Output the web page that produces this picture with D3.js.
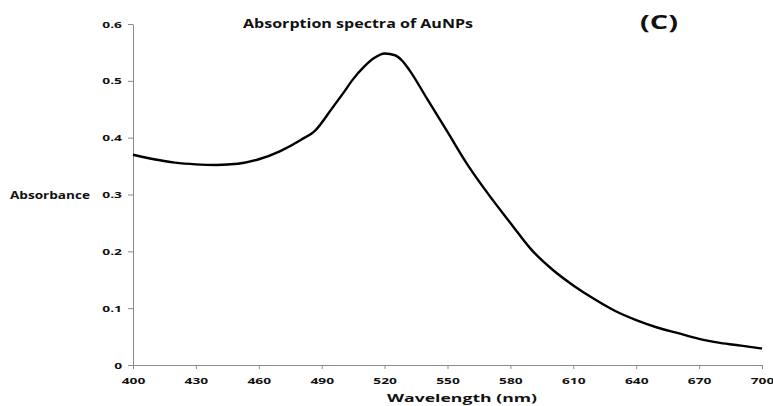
<!DOCTYPE html>
<html>
<head>
<meta charset="utf-8">
<script src="https://cdn.jsdelivr.net/npm/d3@7"></script>
<style>
	html, body { margin: 0; padding: 0; background: #fff; }
	svg { display: block; }
	text { font-family: 'Open Sans', sans-serif; font-weight: bold; fill: #111; }
</style>
</head>
<body>
<svg id="chart"></svg>
<script>
const W = 773
const H = 406

// values
const wavelength = [400, 410, 420, 430, 440, 450, 460, 470, 480, 487, 495, 500, 505, 510, 515, 520, 525, 528, 532, 540, 550, 560, 570, 580, 590, 600, 610, 620, 630, 640, 650, 660, 670, 680, 690, 700]
const absorbance = [0.370, 0.362, 0.356, 0.353, 0.352, 0.354, 0.362, 0.376, 0.396, 0.413, 0.452, 0.477, 0.503, 0.524, 0.540, 0.548, 0.545, 0.537, 0.518, 0.470, 0.410, 0.350, 0.298, 0.250, 0.203, 0.168, 0.140, 0.116, 0.095, 0.079, 0.066, 0.056, 0.046, 0.039, 0.034, 0.029]
const xTicks = [400, 430, 460, 490, 520, 550, 580, 610, 640, 670, 700]
const yTicks = [0, 0.1, 0.2, 0.3, 0.4, 0.5, 0.6]

const data = wavelength.map((w, i) => ({ w, a: absorbance[i] }))

const svg = d3.select('#chart')
	.attr('width', W)
	.attr('height', H)

const x = d3.scaleLinear().domain([400, 700]).range([133, 762])
const y = d3.scaleLinear().domain([0, 0.6]).range([365, 24])

// text in the picture is stretched sideways
function stretch(sel, k) {
	sel.each(function() {
		const len = this.getComputedTextLength()
		d3.select(this)
			.attr('textLength', len * k)
			.attr('lengthAdjust', 'spacingAndGlyphs')
	})
}

const xAxis = svg.append('g')
	.attr('transform', `translate(0,${y(0)})`)
	.call(d3.axisBottom(x).tickValues(xTicks).tickSize(4).tickSizeOuter(0))

const yAxis = svg.append('g')
	.attr('transform', `translate(${x(400)},0)`)
	.call(d3.axisLeft(y).tickValues(yTicks).tickSize(5).tickSizeOuter(0)
		.tickFormat(d => d === 0 ? '0' : d3.format('.1f')(d)))

svg.selectAll('.domain, .tick line').attr('stroke', '#8a8a8a')

xAxis.selectAll('text')
	.attr('font-size', 9.5)
	.attr('font-family', null)
	.attr('y', 12)
	.attr('dy', '0.71em')
	.call(stretch, 1.45)

yAxis.selectAll('text')
	.attr('font-size', 9.5)
	.attr('font-family', null)
	.attr('x', -11)
	.call(stretch, 1.45)

svg.append('path')
	.datum(data)
	.attr('fill', 'none')
	.attr('stroke', '#000')
	.attr('stroke-width', 2.4)
	.attr('stroke-linejoin', 'round')
	.attr('d', d3.line().x(d => x(d.w)).y(d => y(d.a)).curve(d3.curveMonotoneX))

svg.append('text')
	.attr('x', 243).attr('y', 28)
	.attr('font-size', 11.5)
	.attr('textLength', 230)
	.attr('lengthAdjust', 'spacingAndGlyphs')
	.text('Absorption spectra of AuNPs')

svg.append('text')
	.attr('x', 640).attr('y', 29)
	.attr('font-size', 19)
	.attr('textLength', 38)
	.attr('lengthAdjust', 'spacingAndGlyphs')
	.text('(C)')

svg.append('text')
	.attr('x', 10).attr('y', 199)
	.attr('font-size', 10.5)
	.attr('textLength', 80)
	.attr('lengthAdjust', 'spacingAndGlyphs')
	.text('Absorbance')

svg.append('text')
	.attr('x', 387).attr('y', 402)
	.attr('font-size', 11)
	.attr('textLength', 150)
	.attr('lengthAdjust', 'spacingAndGlyphs')
	.text('Wavelength (nm)')
</script>
</body>
</html>
